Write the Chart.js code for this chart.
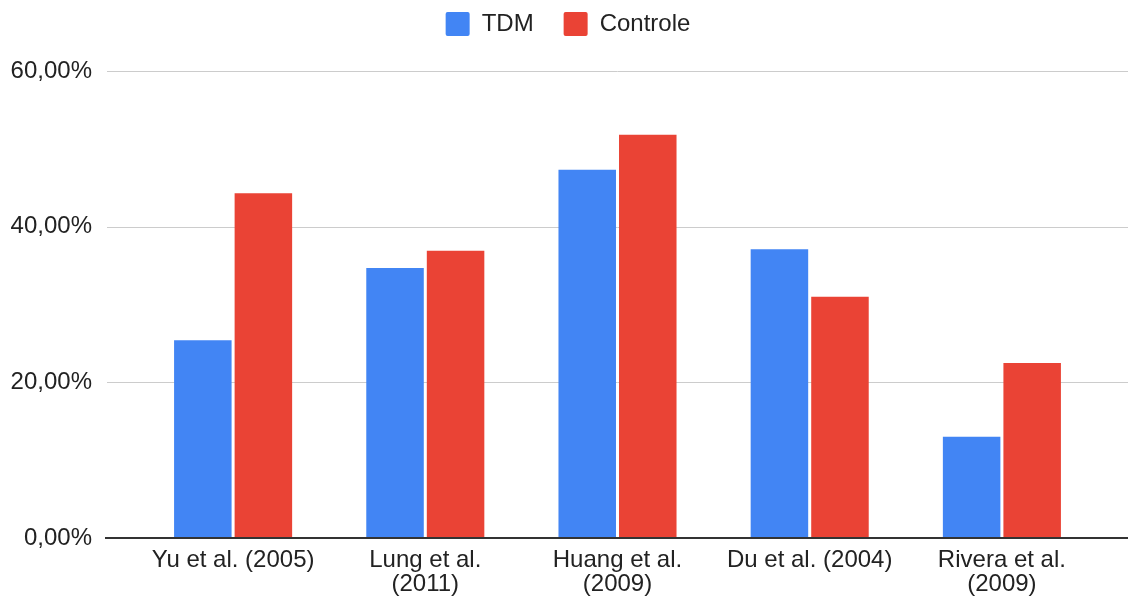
<!DOCTYPE html>
<html>
<head>
<meta charset="utf-8">
<script src="https://cdn.jsdelivr.net/npm/chart.js@4/dist/chart.umd.min.js"></script>
<style>
  html, body { margin: 0; padding: 0; background: #fff; }
  #wrap { width: 1128px; height: 597px; }
</style>
</head>
<body>
<div id="wrap"><canvas id="chart" width="1128" height="597"></canvas></div>
<script>
// ===== Data =====
const categories = [
  'Yu et al. (2005)',
  ['Lung et al.', '(2011)'],
  ['Huang et al.', '(2009)'],
  'Du et al. (2004)',
  ['Rivera et al.', '(2009)']
];
const tdmValues = [25.4, 34.7, 47.3, 37.1, 13.0];
const controleValues = [44.3, 36.9, 51.8, 31.0, 22.5];
const yTicks = [0, 20, 40, 60];

// ===== Legend: extra space underneath, nudged right =====
const legendSpace = {
  id: 'legendSpace',
  beforeInit(chart) {
    const fit = chart.legend.fit;
    chart.legend.fit = function () {
      fit.call(this);
      this.height += 25;
    };
  },
  afterLayout(chart) {
    chart.legend.left += 19;
    chart.legend.right += 19;
  }
};

// ===== Grid lines drawn across the full width =====
const gridPlugin = {
  id: 'wideGrid',
  beforeDatasetsDraw(chart) {
    const ctx = chart.ctx, y = chart.scales.y;
    ctx.save();
    ctx.strokeStyle = '#cccccc';
    ctx.lineWidth = 1;
    yTicks.forEach(v => {
      if (v === 0) return;
      const py = Math.round(y.getPixelForValue(v)) + 0.5;
      ctx.beginPath();
      ctx.moveTo(107, py);
      ctx.lineTo(chart.width, py);
      ctx.stroke();
    });
    ctx.restore();
  },
  afterDatasetsDraw(chart) {
    const ctx = chart.ctx, y = chart.scales.y;
    const py = Math.round(y.getPixelForValue(0));
    ctx.save();
    ctx.strokeStyle = '#333333';
    ctx.lineWidth = 2;
    ctx.beginPath();
    ctx.moveTo(105, py);
    ctx.lineTo(chart.width, py);
    ctx.stroke();
    ctx.restore();
  }
};

const font = { family: '"Liberation Sans", Arial, sans-serif', size: 24, lineHeight: 1.0 };

new Chart(document.getElementById('chart'), {
  type: 'bar',
  data: {
    labels: categories,
    datasets: [
      { label: 'TDM', data: tdmValues, backgroundColor: '#4285F4' },
      { label: 'Controle', data: controleValues, backgroundColor: '#EA4335' }
    ]
  },
  options: {
    responsive: false,
    animation: false,
    categoryPercentage: 0.63,
    barPercentage: 0.95,
    layout: { padding: { left: 0, right: 30, top: -18, bottom: 0 } },
    plugins: {
      legend: {
        position: 'top',
        labels: {
          boxWidth: 24, boxHeight: 24, padding: 30,
          useBorderRadius: true, borderRadius: 2,
          color: '#222', font: font
        }
      },
      tooltip: { enabled: false }
    },
    scales: {
      x: {
        grid: { display: false, drawTicks: false },
        border: { display: false },
        ticks: { color: '#222', font: font, padding: 10, maxRotation: 0, autoSkip: false },
        afterFit(scale) { scale.height = 59; }
      },
      y: {
        min: 0, max: 60,
        afterBuildTicks(scale) { scale.ticks = yTicks.map(v => ({ value: v })); },
        grid: { display: false, drawTicks: false },
        border: { display: false },
        ticks: {
          color: '#222', font: font, padding: 45,
          callback: v => v.toFixed(2).replace('.', ',') + '%'
        },
        afterFit(scale) { scale.width = 137; }
      }
    }
  },
  plugins: [legendSpace, gridPlugin]
});
</script>
</body>
</html>
